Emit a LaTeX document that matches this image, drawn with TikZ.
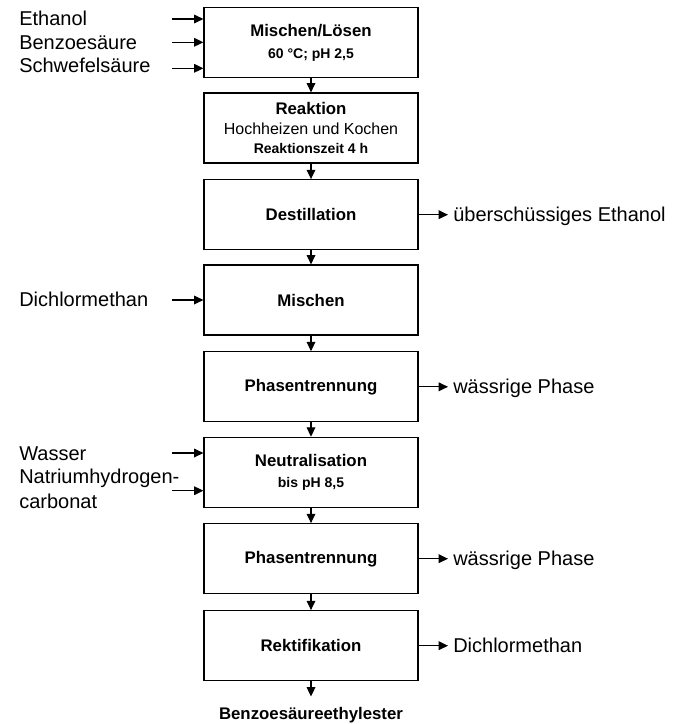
\documentclass[tikz,border=0pt]{standalone}
\usepackage{fontspec}
\setmainfont{Liberation Sans}
\usetikzlibrary{arrows.meta}
\newcommand\sub[1]{{\fontsize{10.5}{12}\selectfont\bfseries #1}}
\begin{document}
\begin{tikzpicture}
	[x=0.75pt,y=-0.75pt,
	box/.style={rectangle,draw,line width=0.9pt,minimum width=160.5pt,minimum height=52.5pt,inner sep=0pt,align=center,font=\fontsize{12.6}{14.5}\selectfont\bfseries},
	feed/.style={anchor=base west,inner sep=0pt,align=left,font=\fontsize{15}{18.5}\selectfont},
	outlab/.style={anchor=west,inner xsep=3.75pt,inner ysep=0pt,text height=10.7pt,text depth=0pt,font=\fontsize{15}{18}\selectfont},
	flow/.style={->,line width=0.9pt},>={Triangle[length=7pt,width=6.5pt]}]
	\useasboundingbox(0,0)rectangle(672,724);
	% process steps
	\node[box,name=b1]at(311,42.7){Mischen/Lösen\\[1.5pt]\sub{60 °C; pH 2,5}};
	\node[box,name=b2]at(311,128){Reaktion\\{\fontsize{12}{14}\selectfont\mdseries Hochheizen und Kochen}\\\sub{Reaktionszeit 4 h}};
	\node[box,name=b3]at(311,214.7){Destillation};
	\node[box,name=b4]at(311,300){Mischen};
	\node[box,name=b5]at(311,386.8){Phasentrennung};
	\node[box,name=b6]at(311,472.3){Neutralisation\\[1pt]\sub{bis pH 8,5}};
	\node[box,name=b7]at(311,558.7){Phasentrennung};
	\node[box,name=b8]at(311,645.7){Rektifikation};
	\draw[flow](b1)--(b2);
	\draw[flow](b2)--(b3);
	\draw[flow](b3)--(b4);
	\draw[flow](b4)--(b5);
	\draw[flow](b5)--(b6);
	\draw[flow](b6)--(b7);
	\draw[flow](b7)--(b8);
	% feeds
	\node[feed,name=f1]at(19,26){Ethanol};
	\node[feed,name=f2]at(19,49.3){Benzoesäure};
	\node[feed,name=f3]at(19,73){Schwefelsäure};
	\node[feed,name=f4]at(19,306){Dichlormethan};
	\node[feed,name=f5]at(19,460){Wasser};
	\node[feed,name=f6]at(19,508){Natriumhydrogen-\\carbonat};
	\coordinate(c1)at(172,19);
	\coordinate(c2)at(172,42.3);
	\coordinate(c3)at(172,68.3);
	\coordinate(c4)at(172,300);
	\coordinate(c5)at(172,453);
	\coordinate(c6)at(172,490.7);
	\draw[flow](c1)--(c1-|b1.west);
	\draw[flow](c2)--(c2-|b1.west);
	\draw[flow](c3)--(c3-|b1.west);
	\draw[flow](c4)--(c4-|b4.west);
	\draw[flow](c5)--(c5-|b6.west);
	\draw[flow](c6)--(c6-|b6.west);
	% outputs
	\node[outlab,name=o3]at(448,214.7){überschüssiges Ethanol};
	\node[outlab,name=o5]at(448,386.8){wässrige Phase};
	\node[outlab,name=o7]at(448,558.7){wässrige Phase};
	\node[outlab,name=o8]at(448,645.7){Dichlormethan};
	\draw[flow](b3)--(o3);
	\draw[flow](b5)--(o5);
	\draw[flow](b7)--(o7);
	\draw[flow](b8)--(o8);
	\node[name=p,inner xsep=0pt,inner ysep=7.7pt,text height=9pt,text depth=0pt,font=\fontsize{12.6}{14}\selectfont\bfseries]at(311,713){Benzoesäureethylester};
	\draw[flow](b8)--(p);
\end{tikzpicture}
\end{document}
